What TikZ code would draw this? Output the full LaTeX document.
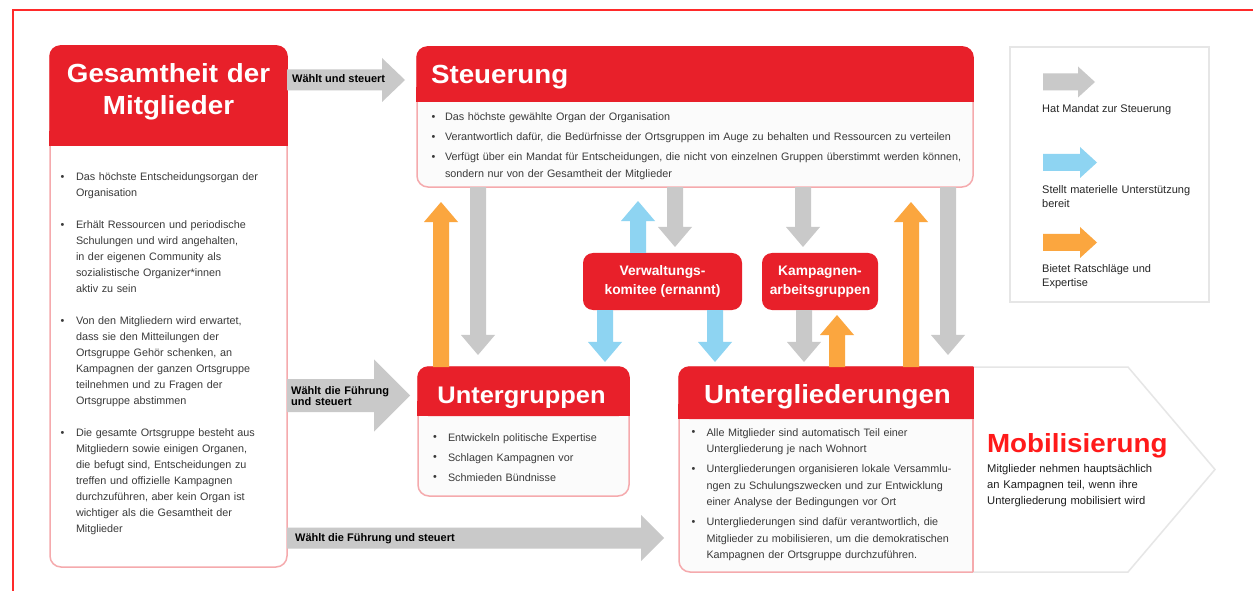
\documentclass[tikz,border=0pt]{standalone}
\usepackage{fontspec}
\setmainfont{Liberation Sans}
\newfontfamily\headfont[FakeStretch=1.06]{Liberation Sans}
\usetikzlibrary{calc}
\definecolor{hred}{HTML}{E8202A}
\definecolor{pinkb}{HTML}{F5AAAD}
\definecolor{arrgrey}{HTML}{C9C9C9}
\definecolor{arrblue}{HTML}{8ED4F2}
\definecolor{arrorange}{HTML}{FBA63F}
\definecolor{txt}{HTML}{3A3A3A}
\definecolor{mobred}{HTML}{FF1A1A}
\definecolor{legb}{HTML}{E6E6E6}
\definecolor{bodyg}{HTML}{FBFBFB}
\definecolor{framered}{HTML}{FF2A2A}
\newlength\bulw
\setlength\bulw{14bp}
\newcommand\bulin{\hangindent=\bulw\hangafter=1\hbox to \bulw{\hskip0.5bp\raisebox{0.3bp}{\textbullet}\hss}}
\newcommand\bul{\par\noindent\bulin}
\newcommand\blockarrow[6]{%
  \coordinate (ba) at (#2);
  \coordinate (bb) at (#3);
  \coordinate (be) at ($(bb)!#6!(ba)$);
  \fill[#1] ($(ba)!#4!90:(bb)$) -- ($(be)!#4!90:(bb)$) -- ($(be)!#5!90:(bb)$) -- (bb)
    -- ($(be)!#5!-90:(bb)$) -- ($(be)!#4!-90:(bb)$) -- ($(ba)!#4!-90:(bb)$) -- cycle;
}
\newcommand\varrow[3]{\blockarrow{#1}{#2}{#3}{8bp}{17bp}{20bp}}
\newcommand\header[2]{%
  \fill[hred, rounded corners=11bp] ($(#1.north west)+(-0.75,-0.75)$) rectangle ($(#1.north east)+(0.75,#2)$);
  \fill[hred] ($(#1.north west)+(-0.75,#2-15)$) rectangle ($(#1.north east)+(0.75,#2)$);
}
\begin{document}
\begin{tikzpicture}[x=1bp,y=-1bp,
  boxn/.style={draw=pinkb, line width=1.5bp, fill=white, rounded corners=11bp, anchor=north west, inner sep=0pt, outer sep=0pt},
  smallbox/.style={fill=hred, rounded corners=10bp, anchor=north west, inner sep=0pt, outer sep=0pt, text=white, font=\bfseries\fontsize{13.8bp}{19bp}\selectfont, align=center},
  bodytext/.style={anchor=base west, inner sep=0pt, outer sep=0pt, text=txt, align=left, font=\fontsize{10.8bp}{16.5bp}\selectfont},
  ttl/.style={inner sep=0pt, outer sep=0pt, text=white, font=\headfont\bfseries\fontsize{26.2bp}{32bp}\selectfont},
  albl/.style={anchor=base west, inner sep=0pt, text=black, font=\bfseries\fontsize{11bp}{11.8bp}\selectfont, align=left},
  legtext/.style={anchor=base west, inner sep=0pt, text=black!85, font=\fontsize{11bp}{13.3bp}\selectfont, align=left},
  garrow/.style={fill=arrgrey},
  barrow/.style={fill=arrblue},
  oarrow/.style={fill=arrorange}
]
\useasboundingbox (0,0) rectangle (1253,591);
\fill[white] (0,0) rectangle (1253,591);
\draw[framered, line width=1.5bp] (13,591) -- (13,10) -- (1253,10);

% main boxes
\node[boxn, minimum width=237bp, minimum height=521bp] (gm) at (50,46) {};
\header{gm}{100}
\node[boxn, fill=bodyg, minimum width=556bp, minimum height=140bp] (st) at (417,47) {};
\header{st}{55}
\node[boxn, fill=bodyg, minimum width=211bp, minimum height=129bp] (ug) at (418,367) {};
\header{ug}{49}
\node[boxn, draw=none, fill=none, minimum width=294bp, minimum height=205bp] (ul) at (679,367) {};
\draw[draw=pinkb, line width=1.5bp, fill=bodyg, rounded corners=11bp] (ul.north west) rectangle ($(ul.south east)+(20,0)$);
\fill[hred, rounded corners=11bp] ($(ul.north west)+(-0.75,-0.75)$) rectangle ($(ul.north east)+(20,52)$);
\fill[hred] ($(ul.north west)+(-0.75,37)$) rectangle ($(ul.north east)+(20,52)$);

% Mobilisierung pentagon
\fill[white] (ul.north east) -- ($(ul.north east)+(155,0)$) -- ($(ul.east)+(242,0)$) -- ($(ul.south east)+(155,0)$) -- ($(ul.south east)+(0,0.75)$) -- cycle;
\fill[white] ($(ul.north east)+(0.5,-0.75)$) rectangle ($(ul.south east)+(25,0.75)$);
\draw[legb, line width=1.5bp, line join=miter] (ul.north east) -- ($(ul.north east)+(155,0)$) -- ($(ul.east)+(242,0)$) -- ($(ul.south east)+(155,0)$) -- (ul.south east);
\draw[pinkb, line width=1.5bp] ($(ul.north east)+(0,52)$) -- (ul.south east);
\draw[hred, line width=1.5bp] (ul.north east) -- ($(ul.north east)+(0,52)$);

% legend
\node[draw=legb, line width=2bp, fill=white, minimum width=199bp, minimum height=255bp, anchor=north west, inner sep=0pt, outer sep=0pt] (lg) at (1010,47) {};
\blockarrow{garrow}{$(lg.north west)+(33,35)$}{$(lg.north west)+(85,35)$}{8.5bp}{15.5bp}{17bp}
\blockarrow{barrow}{$(lg.north west)+(33,115.5)$}{$(lg.north west)+(87,115.5)$}{8.5bp}{15.5bp}{17bp}
\blockarrow{oarrow}{$(lg.north west)+(33,195.5)$}{$(lg.north west)+(87,195.5)$}{8.5bp}{15.5bp}{17bp}
\node[legtext] (lt1) at ($(lg.north west)+(32,66)$) {Hat Mandat zur Steuerung};
\node[legtext, text width=165bp] (lt2) at ($(lg.north west)+(32,147)$) {Stellt materielle Unterstützung\\bereit};
\node[legtext, text width=165bp] (lt3) at ($(lg.north west)+(32,226)$) {Bietet Ratschläge und\\Expertise};

% small boxes
\node[smallbox, minimum width=159bp, minimum height=57bp] (vk) at (583,253) {Verwaltungs-\\komitee (ernannt)};
\node[smallbox, minimum width=116bp, minimum height=57bp] (kg) at (762,253) {Kampagnen-\\arbeitsgruppen};

% horizontal arrows
\blockarrow{garrow}{$(gm.north east)+(0,34)$}{$(st.north west)+(-12,33)$}{10.5bp}{22bp}{23bp}
\blockarrow{garrow}{$(gm.north east)+(0,349.5)$}{$(ug.north west)+(-8,28.5)$}{16.5bp}{36bp}{36bp}
\blockarrow{garrow}{$(gm.north east)+(0,492)$}{$(ul.north west)+(-15,171)$}{10.5bp}{23bp}{23bp}

% vertical arrows
\varrow{oarrow}{$(ug.north west)+(23,0)$}{$(st.south west)+(24,15)$}
\varrow{garrow}{$(st.south west)+(61,0)$}{$(ug.north west)+(60,-12)$}
\varrow{barrow}{$(vk.north west)+(55,0)$}{$(st.south west)+(221,14)$}
\varrow{garrow}{$(st.south west)+(258,0)$}{$(vk.north west)+(92,-6)$}
\varrow{garrow}{$(st.south west)+(386,0)$}{$(kg.north west)+(41,-6)$}
\varrow{oarrow}{$(ul.north west)+(232,0)$}{$(st.south west)+(494,15)$}
\varrow{garrow}{$(st.south west)+(531,0)$}{$(ul.north west)+(269,-12)$}
\varrow{barrow}{$(vk.south west)+(22,0)$}{$(ug.north west)+(187,-5)$}
\varrow{barrow}{$(vk.south west)+(132,0)$}{$(ul.north west)+(36,-5)$}
\varrow{garrow}{$(kg.south west)+(42,0)$}{$(ul.north west)+(125,-5)$}
\varrow{oarrow}{$(ul.north west)+(158,0)$}{$(kg.south west)+(75,5)$}

% arrow labels
\node[albl] (l1) at (292,83) {Wählt und steuert};
\node[albl, text width=110bp] (l2) at (291,394) {Wählt die Führung\\und steuert};
\node[albl] (l3) at (295,541) {Wählt die Führung und steuert};

% titles
\node[ttl, anchor=base, text width=230bp, align=center] (gmtitle) at (168.5,83) {Gesamtheit der\\Mitglieder};
\node[ttl, anchor=base west] (sttitle) at (431,83.5) {Steuerung};
\node[ttl, anchor=base, font=\headfont\bfseries\fontsize{24bp}{30bp}\selectfont] (ugtitle) at ($(ug.north)+(-2,36)$) {Untergruppen};
\node[ttl, anchor=base] (ultitle) at (827.5,403) {Untergliederungen};
\node[ttl, anchor=base west, text=mobred] (mobtitle) at (987,452) {Mobilisierung};
\node[anchor=base west, inner sep=0pt, text=black!88, align=left, text width=210bp, font=\fontsize{11.2bp}{16.3bp}\selectfont] (mobtext) at (987,472) {Mitglieder nehmen hauptsächlich\\an Kampagnen teil, wenn ihre\\Untergliederung mobilisiert wird};

% body texts
\node[bodytext, text width=220bp, font=\fontsize{10.8bp}{16bp}\selectfont] (gmt) at (60,180.5) {\setlength\bulw{16bp}\setlength\parskip{16bp}%
\bulin Das höchste Entscheidungsorgan der\newline Organisation%
\bul Erhält Ressourcen und periodische\newline Schulungen und wird angehalten,\newline in der eigenen Community als\newline sozialistische Organizer*innen\newline aktiv zu sein%
\bul Von den Mitgliedern wird erwartet,\newline dass sie den Mitteilungen der\newline Ortsgruppe Gehör schenken, an\newline Kampagnen der ganzen Ortsgruppe\newline teilnehmen und zu Fragen der\newline Ortsgruppe abstimmen%
\bul Die gesamte Ortsgruppe besteht aus\newline Mitgliedern sowie einigen Organen,\newline die befugt sind, Entscheidungen zu\newline treffen und offizielle Kampagnen\newline durchzuführen, aber kein Organ ist\newline wichtiger als die Gesamtheit der\newline Mitglieder\par};

\node[bodytext, text width=538bp] (stt) at (431,121) {\setlength\bulw{14bp}\setlength\parskip{3.5bp}%
\bulin Das höchste gewählte Organ der Organisation%
\bul Verantwortlich dafür, die Bedürfnisse der Ortsgruppen im Auge zu behalten und Ressourcen zu verteilen%
\bul Verfügt über ein Mandat für Entscheidungen, die nicht von einzelnen Gruppen überstimmt werden können,\newline sondern nur von der Gesamtheit der Mitglieder\par};

\node[bodytext, text width=190bp] (ugt) at (432.5,441) {\setlength\bulw{15.5bp}\setlength\parskip{3.5bp}%
\bulin Entwickeln politische Expertise%
\bul Schlagen Kampagnen vor%
\bul Schmieden Bündnisse\par};

\node[bodytext, text width=278bp] (ult) at (691,436) {\setlength\bulw{15.5bp}\setlength\parskip{3.5bp}%
\bulin Alle Mitglieder sind automatisch Teil einer\newline Untergliederung je nach Wohnort%
\bul Untergliederungen organisieren lokale Versammlu-\newline ngen zu Schulungszwecken und zur Entwicklung\newline einer Analyse der Bedingungen vor Ort%
\bul Untergliederungen sind dafür verantwortlich, die\newline Mitglieder zu mobilisieren, um die demokratischen\newline Kampagnen der Ortsgruppe durchzuführen.\par};
\end{tikzpicture}
\end{document}
